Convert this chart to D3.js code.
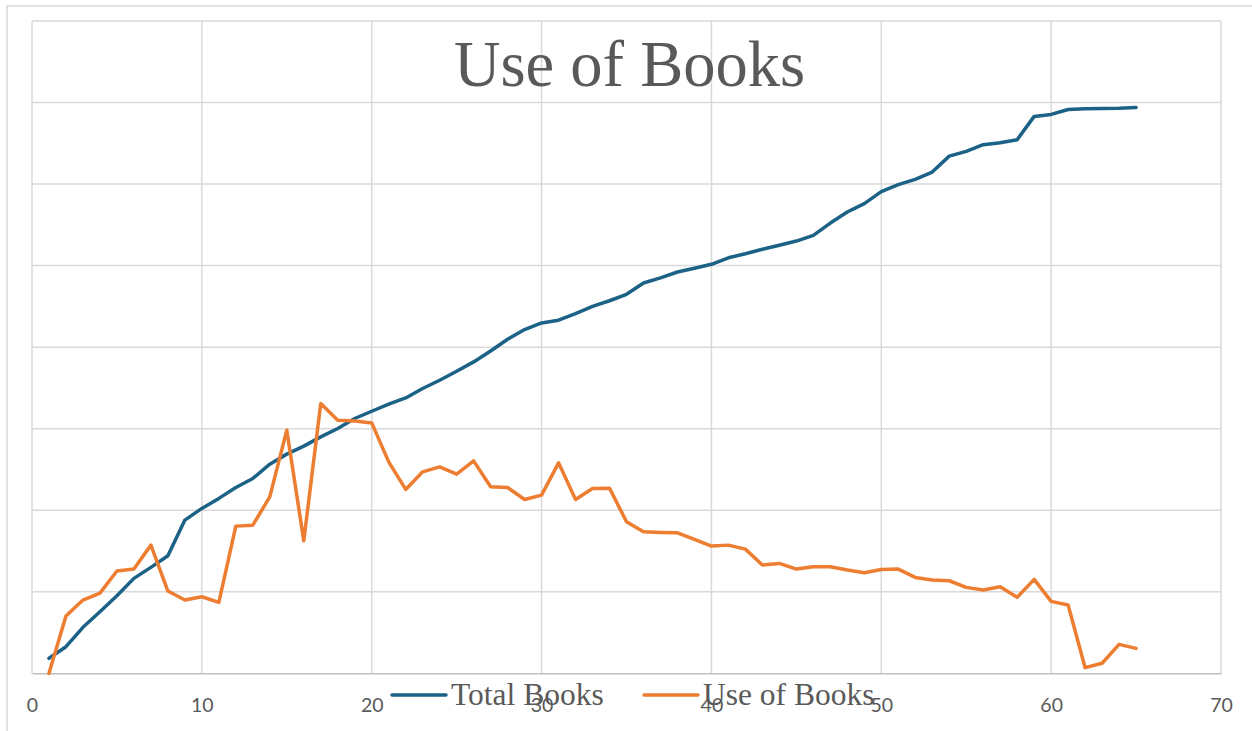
<!DOCTYPE html>
<html>
<head>
<meta charset="utf-8">
<script src="https://cdn.jsdelivr.net/npm/d3@7"></script>
<style>
  html, body { margin: 0; padding: 0; background: #fff; }
  svg { display: block; }
</style>
</head>
<body>
<script>
const chartTitle = "Use of Books";
const seriesNames = ["Total Books", "Use of Books"];
const xValues = d3.range(1, 66);
const totalBooks = [18.4, 32.6, 56.4, 75.5, 95.1, 116.4, 129.9, 144.1, 187.9, 202.2,
  214.5, 227.9, 239.0, 256.5, 268.8, 278.6, 290.0, 300.2, 312.5, 321.4,
  330.0, 337.7, 349.3, 359.4, 370.5, 381.9, 395.3, 409.7, 421.6, 429.7,
  433.0, 441.2, 450.1, 456.9, 464.8, 478.7, 485.0, 492.2, 496.7, 501.6,
  509.6, 514.5, 520.0, 524.9, 530.1, 537.1, 552.2, 565.7, 576.0, 590.7,
  599.3, 605.8, 614.7, 634.3, 640.1, 648.3, 650.7, 654.4, 683.0, 685.4,
  691.5, 692.4, 692.8, 693.1, 694.0];
const useOfBooks = [0, 70.2, 89.8, 98.4, 125.4, 127.8, 157.2, 100.9, 89.8, 93.9,
  87.0, 180.5, 181.7, 216.4, 298.2, 162.5, 330.9, 310.4, 309.5, 307.1,
  259.3, 225.5, 247.1, 253.2, 244.2, 260.5, 228.7, 227.9, 213.2, 218.5,
  258.1, 213.2, 226.7, 227.1, 185.8, 173.5, 172.8, 172.3, 164.2, 156.0,
  157.2, 152.3, 132.7, 134.8, 127.8, 130.6, 130.6, 126.6, 123.3, 127.2,
  127.8, 117.6, 114.3, 113.5, 105.4, 102.1, 106.1, 93.1, 115.2, 88.2,
  83.7, 6.9, 12.3, 35.5, 30.6];
const xTicks = [0, 10, 20, 30, 40, 50, 60, 70];
const yTicks = [0, 100, 200, 300, 400, 500, 600, 700, 800];
const colors = ["#1B6286", "#ED7D31"];

const W = 1252, H = 731;
const svg = d3.select("body").append("svg").attr("width", W).attr("height", H);

// outer chart frame (extends beyond the picture on right/bottom)
svg.append("rect").attr("x", 7).attr("y", 6).attr("width", 1260).attr("height", 740)
  .attr("fill", "#fff").attr("stroke", "#d9d9d9").attr("stroke-width", 1.5);

const x = d3.scaleLinear().domain([0, 70]).range([32, 1221]);
const y = d3.scaleLinear().domain([0, 800]).range([673.3, 21]);

// gridlines
svg.append("g").selectAll("line.h").data(yTicks.filter(d => d > 0)).join("line")
  .attr("x1", x(0)).attr("x2", x(70)).attr("y1", d => y(d)).attr("y2", d => y(d))
  .attr("stroke", "#d9d9d9").attr("stroke-width", 1.5);
svg.append("g").selectAll("line.v").data(xTicks).join("line")
  .attr("x1", d => x(d)).attr("x2", d => x(d)).attr("y1", y(0)).attr("y2", y(800))
  .attr("stroke", "#d9d9d9").attr("stroke-width", 1.5);

// x axis
const xAxis = d3.axisBottom(x).tickValues(xTicks).tickSize(0).tickPadding(0);
const gx = svg.append("g").attr("transform", `translate(0,${y(0)})`).call(xAxis);
gx.select(".domain").attr("stroke", "#bfbfbf").attr("stroke-width", 1.5);
gx.selectAll("text").attr("font-family", "Lato, 'Open Sans', sans-serif")
  .attr("font-size", 19.5).attr("fill", "#595959").attr("dy", null).attr("y", 38.5);

// lines
const line = d3.line().x((d, i) => x(xValues[i])).y(d => y(d));
[totalBooks, useOfBooks].forEach((s, k) => {
  svg.append("path").datum(s).attr("d", line).attr("fill", "none")
    .attr("stroke", colors[k]).attr("stroke-width", 3.5)
    .attr("stroke-linejoin", "round").attr("stroke-linecap", "round");
});

// title
svg.append("text").attr("x", 629.5).attr("y", 86).attr("text-anchor", "middle")
  .attr("font-family", "'Liberation Serif', 'Times New Roman', serif")
  .attr("font-size", 64.5).attr("fill", "#595959").text(chartTitle);

// legend
const legendX = [392, 644];
seriesNames.forEach((name, k) => {
  const g = svg.append("g").attr("transform", `translate(${legendX[k]},695)`);
  g.append("line").attr("x1", 0).attr("x2", 54).attr("y1", 0).attr("y2", 0)
    .attr("stroke", colors[k]).attr("stroke-width", 3.5).attr("stroke-linecap", "round");
  g.append("text").attr("x", 59).attr("y", 10)
    .attr("font-family", "'Liberation Serif', 'Times New Roman', serif")
    .attr("font-size", 31.5).attr("fill", "#595959").text(name);
});
</script>
</body>
</html>
